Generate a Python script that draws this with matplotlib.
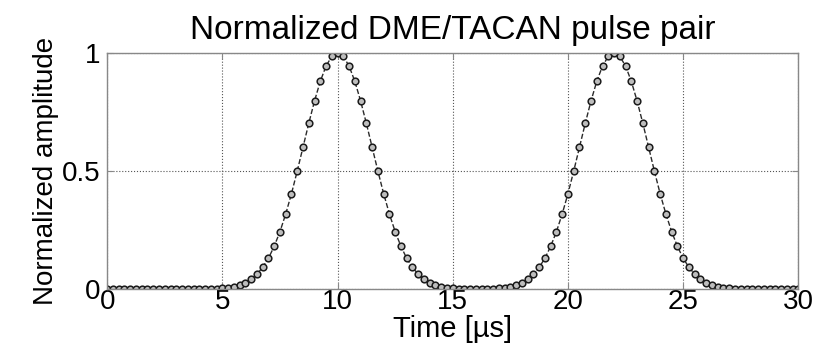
import numpy as np
import matplotlib.pyplot as plt

plt.rcParams['font.family'] = ['Liberation Sans', 'DejaVu Sans']

# sample instants, 0.25 us spacing over 0..30 us
t_start, t_stop, t_step = 0.0, 30.0, 0.25
time_us = np.arange(t_start, t_stop + t_step / 2, t_step)

# normalized envelope samples of the pulse pair (peaks at 10 us and 22 us)
amplitude = [
    0, 0, 0, 0, 0, 0, 0, 0, 0, 0, 0, 0, 0, 0, 0, 0,
    0.0003, 0.0006, 0.0011, 0.0020, 0.0035, 0.0061, 0.0102, 0.0168,
    0.0268, 0.0415, 0.0625, 0.092, 0.130, 0.181, 0.243, 0.318,
    0.404, 0.500, 0.601, 0.702, 0.797, 0.880, 0.945, 0.986,
    1.000,
    0.986, 0.945, 0.880, 0.797, 0.702, 0.601, 0.500, 0.404,
    0.318, 0.243, 0.181, 0.130, 0.092, 0.0625, 0.0415, 0.0268,
    0.0168, 0.0102, 0.0061, 0.0035, 0.0020, 0.0011, 0.0006,
    0.0006,
    0.0006, 0.0011, 0.0020, 0.0035, 0.0061, 0.0102, 0.0168, 0.0268,
    0.0415, 0.0625, 0.092, 0.130, 0.181, 0.243, 0.318, 0.404,
    0.500, 0.601, 0.702, 0.797, 0.880, 0.945, 0.986,
    1.000,
    0.986, 0.945, 0.880, 0.797, 0.702, 0.601, 0.500, 0.404,
    0.318, 0.243, 0.181, 0.130, 0.092, 0.0625, 0.0415, 0.0268,
    0.0168, 0.0102, 0.0061, 0.0035, 0.0020, 0.0011, 0.0006, 0.0003,
    0, 0, 0, 0, 0, 0, 0, 0,
]

x_ticks = [0, 5, 10, 15, 20, 25, 30]
y_ticks = [0, 0.5, 1]
y_tick_labels = ['0', '0.5', '1']

fig = plt.figure(figsize=(8.18, 3.49), dpi=100)
ax = fig.add_axes([0.131, 0.172, 0.845, 0.676])

ax.plot(time_us, amplitude, '--', color='#2a2a2a', lw=1.0,
        marker='o', markersize=4.8, mfc='#bdbdbd', mec='#1a1a1a', mew=1.1)

ax.set_xlim(0, 30)
ax.set_ylim(0, 1)
ax.set_xticks(x_ticks)
ax.set_yticks(y_ticks)
ax.set_yticklabels(y_tick_labels)
ax.grid(True, linestyle=':', color='#555555', lw=0.8)

for s in ax.spines.values():
    s.set_color('#888888')
    s.set_linewidth(1.0)
ax.tick_params(direction='in', length=4, color='#888888',
               labelsize=20, pad=0, top=True, right=True)
ax.tick_params(axis='y', pad=5)

ax.set_title('Normalized DME/TACAN pulse pair', fontsize=24, pad=10)
ax.set_xlabel('Time [µs]', fontsize=21, labelpad=0)
ax.set_ylabel('Normalized amplitude', fontsize=20, labelpad=2)

fig.savefig('out.png', dpi=100)
